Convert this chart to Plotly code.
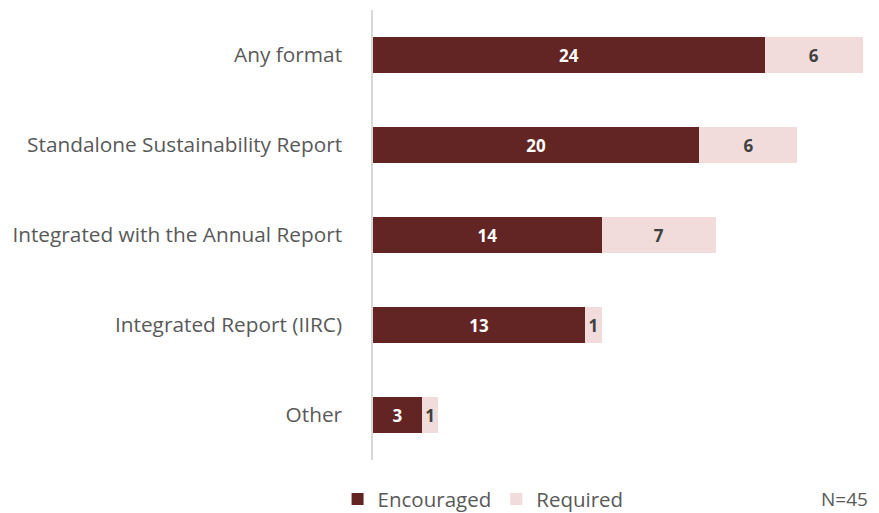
import plotly.graph_objects as go

categories = ["Any format", "Standalone Sustainability Report", "Integrated with the Annual Report",
              "Integrated Report (IIRC)", "Other"]
encouraged = [24, 20, 14, 13, 3]
required = [6, 6, 7, 1, 1]

font_family = "Open Sans, Liberation Sans, sans-serif"
label_color = "#595959"

fig = go.Figure()
fig.add_trace(go.Bar(
    y=categories, x=encouraged, name="Encouraged", orientation="h",
    marker=dict(color="#632523", line=dict(width=0)),
    text=encouraged, textposition="inside", insidetextanchor="middle",
    constraintext="none",
    textfont=dict(color="white", size=17, family=font_family, weight="bold"),
    width=0.4,
))
fig.add_trace(go.Bar(
    y=categories, x=required, name="Required", orientation="h",
    marker=dict(color="#F2DCDB", line=dict(width=0)),
    text=required, textposition="inside", insidetextanchor="middle",
    constraintext="none",
    textfont=dict(color="#404040", size=17, family=font_family, weight="bold"),
    width=0.4,
))

fig.update_layout(
    barmode="stack",
    width=871, height=505,
    margin=dict(l=365, r=0, t=2, b=53, autoexpand=False),
    plot_bgcolor="white", paper_bgcolor="white",
    font=dict(family=font_family, size=20, color=label_color),
    showlegend=True,
    legend=dict(orientation="h", x=-0.07, xanchor="left", y=-0.087, yanchor="middle",
                font=dict(size=20.5, color=label_color), itemwidth=30,
                traceorder="normal"),
    xaxis=dict(range=[0, 31], showgrid=False, zeroline=False, showticklabels=False,
               showline=False),
    yaxis=dict(autorange="reversed", showgrid=False, zeroline=False,
               showline=True, linecolor="#D9D9D9", linewidth=1.5,
               ticks="", ticklabelstandoff=25,
               tickfont=dict(size=20.8, color=label_color)),
    annotations=[dict(text="N=45", xref="paper", yref="paper", x=0.982, y=-0.087,
                      xanchor="right", yanchor="middle", showarrow=False,
                      font=dict(size=19, color=label_color))],
)

fig.write_html("out.html")
